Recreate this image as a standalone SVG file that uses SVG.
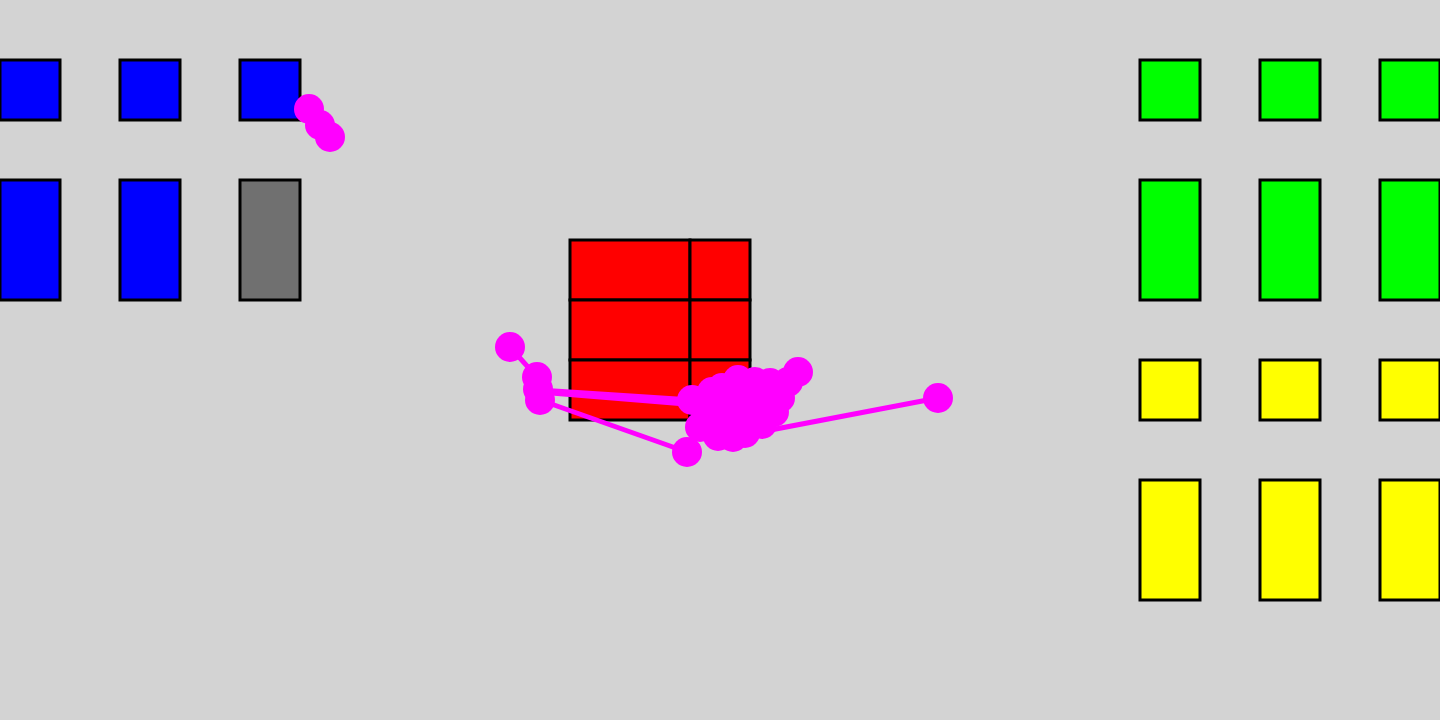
<svg xmlns="http://www.w3.org/2000/svg" width="1440" height="720" viewBox="0 0 1440 720">
<style>
.b{fill:#0000ff;stroke:#000;stroke-width:3}
.g{fill:#00ff00;stroke:#000;stroke-width:3}
.y{fill:#ffff00;stroke:#000;stroke-width:3}
.gr{fill:#707070;stroke:#000;stroke-width:3}
.r{fill:#ff0000;stroke:#000;stroke-width:3}
.l{stroke:#ff00ff;stroke-width:5;fill:none}
.d{fill:#ff00ff}
</style>
<rect width="1440" height="720" fill="#d3d3d3"/>
<g id="blue">
<rect class="b" x="0" y="60" width="60" height="60"/>
<rect class="b" x="120" y="60" width="60" height="60"/>
<rect class="b" x="240" y="60" width="60" height="60"/>
<rect class="b" x="0" y="180" width="60" height="120"/>
<rect class="b" x="120" y="180" width="60" height="120"/>
<rect class="gr" x="240" y="180" width="60" height="120"/>
</g>
<g id="green">
<rect class="g" x="1140" y="60" width="60" height="60"/>
<rect class="g" x="1260" y="60" width="60" height="60"/>
<rect class="g" x="1380" y="60" width="60" height="60"/>
<rect class="g" x="1140" y="180" width="60" height="120"/>
<rect class="g" x="1260" y="180" width="60" height="120"/>
<rect class="g" x="1380" y="180" width="60" height="120"/>
</g>
<g id="yellow">
<rect class="y" x="1140" y="360" width="60" height="60"/>
<rect class="y" x="1260" y="360" width="60" height="60"/>
<rect class="y" x="1380" y="360" width="60" height="60"/>
<rect class="y" x="1140" y="480" width="60" height="120"/>
<rect class="y" x="1260" y="480" width="60" height="120"/>
<rect class="y" x="1380" y="480" width="60" height="120"/>
</g>
<g id="red">
<rect class="r" x="570" y="240" width="120" height="60"/>
<rect class="r" x="690" y="240" width="60" height="60"/>
<rect class="r" x="570" y="300" width="120" height="60"/>
<rect class="r" x="690" y="300" width="60" height="60"/>
<rect class="r" x="570" y="360" width="120" height="60"/>
<rect class="r" x="690" y="360" width="60" height="60"/>
</g>
<g id="connectors">
<polyline class="l" points="510,347 537,377 539,390 692,400"/>
<polyline class="l" points="539,392 710,406"/>
<polyline class="l" points="540,400 687,452"/>
<polyline class="l" points="938,398 760,432"/>
</g>
<g id="dots">
<circle class="d" cx="309" cy="109" r="15"/>
<circle class="d" cx="320" cy="125" r="15"/>
<circle class="d" cx="330" cy="137" r="15"/>
<circle class="d" cx="510" cy="347" r="15"/>
<circle class="d" cx="537" cy="377" r="15"/>
<circle class="d" cx="538" cy="389" r="15"/>
<circle class="d" cx="540" cy="400" r="15"/>
<circle class="d" cx="687" cy="452" r="15"/>
<circle class="d" cx="938" cy="398" r="15"/>
<circle class="d" cx="692" cy="400" r="15"/>
<circle class="d" cx="738" cy="380" r="15"/>
<circle class="d" cx="722" cy="388" r="15"/>
<circle class="d" cx="798" cy="372" r="15"/>
<circle class="d" cx="788" cy="382" r="15"/>
<circle class="d" cx="770" cy="383" r="15"/>
<circle class="d" cx="755" cy="382" r="15"/>
<circle class="d" cx="760" cy="398" r="15"/>
<circle class="d" cx="780" cy="398" r="15"/>
<circle class="d" cx="774" cy="412" r="15"/>
<circle class="d" cx="762" cy="424" r="15"/>
<circle class="d" cx="745" cy="420" r="15"/>
<circle class="d" cx="740" cy="402" r="15"/>
<circle class="d" cx="720" cy="405" r="15"/>
<circle class="d" cx="710" cy="418" r="15"/>
<circle class="d" cx="700" cy="427" r="15"/>
<circle class="d" cx="733" cy="437" r="15"/>
<circle class="d" cx="718" cy="436" r="15"/>
<circle class="d" cx="730" cy="420" r="15"/>
<circle class="d" cx="745" cy="433" r="15"/>
<circle class="d" cx="712" cy="392" r="15"/>
</g>
</svg>
